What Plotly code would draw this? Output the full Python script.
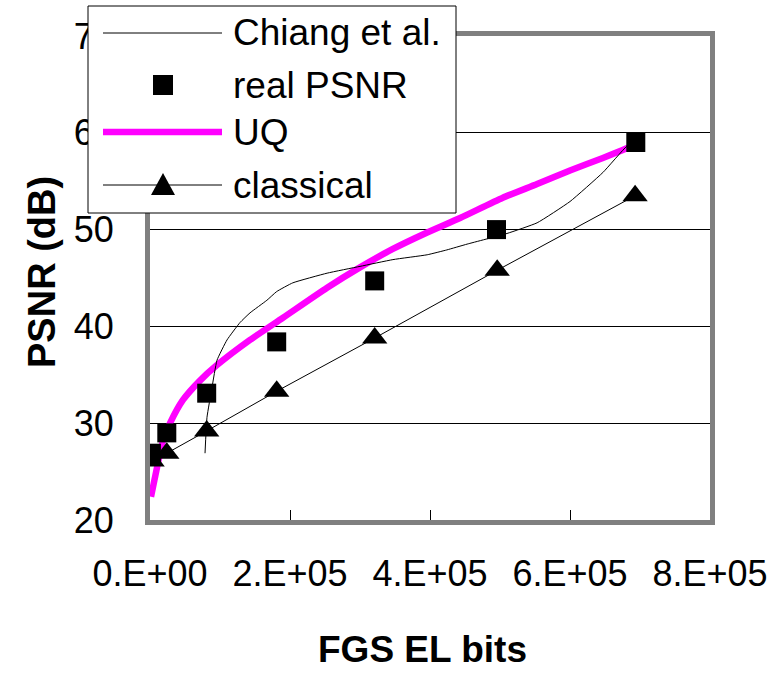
import plotly.graph_objects as go

# ---------------- data ----------------
real_x = [2e3, 0.24e5, 0.81e5, 1.81e5, 3.21e5, 4.95e5, 6.94e5]
real_y = [26.9, 29.0, 33.1, 38.4, 44.7, 50.0, 59.0]

classical_x = [3e3, 0.24e5, 0.81e5, 1.81e5, 3.21e5, 4.96e5, 6.93e5]
classical_y = [26.1, 26.9, 29.2, 33.3, 38.8, 45.8, 53.5]

uq_x = [0.014e5, 0.071e5, 0.186e5, 0.286e5, 0.471e5, 0.714e5, 0.957e5, 1.429e5,
        1.9e5, 2.53e5, 3.0e5, 3.47e5, 3.96e5, 4.43e5, 5.04e5, 5.53e5, 6.0e5,
        6.47e5, 6.81e5, 6.93e5]
uq_y = [22.4, 24.4, 28.2, 30.0, 32.4, 34.4, 36.0, 38.6,
        40.9, 44.0, 46.1, 48.0, 49.7, 51.2, 53.3, 54.7, 56.1,
        57.4, 58.4, 58.8]

chiang_x = [0.786e5, 0.814e5, 0.886e5, 0.957e5, 1.1e5, 1.286e5, 1.429e5, 1.67e5,
            1.81e5, 2.04e5, 2.53e5, 3.0e5, 3.47e5, 3.96e5, 4.24e5, 4.53e5,
            5.1e5, 5.53e5, 6.0e5, 6.47e5, 6.81e5, 6.93e5]
chiang_y = [26.9, 30.6, 33.7, 36.5, 38.6, 40.4, 41.4, 42.7,
            43.6, 44.5, 45.5, 46.2, 46.9, 47.4, 47.9, 48.5,
            49.6, 50.7, 52.9, 55.9, 58.6, 59.0]

x_tickvals = [0, 2e5, 4e5, 6e5, 8e5]
x_ticktext = ["0.E+00", "2.E+05", "4.E+05", "6.E+05", "8.E+05"]
y_tickvals = [20, 30, 40, 50, 60, 70]

legend_names = ["Chiang et al.", "real PSNR", "UQ", "classical"]

# ---------------- layout geometry ----------------
W, H = 784, 673
L, R, T, B = 150, 74, 36, 153
PW, PH = W - L - R, H - T - B
FONT = "Liberation Sans, Arial, sans-serif"


def px2x(px):
    return (px - L) / PW


def px2y(py):
    return (H - B - py) / PH


fig = go.Figure()

fig.add_trace(go.Scatter(x=uq_x, y=uq_y, mode="lines", name="UQ",
                         line=dict(color="#FF00FF", width=6.5, shape="spline", smoothing=0.6),
                         showlegend=False))
fig.add_trace(go.Scatter(x=chiang_x, y=chiang_y, mode="lines", name="Chiang et al.",
                         line=dict(color="black", width=1, shape="spline", smoothing=0.4),
                         showlegend=False))
fig.add_trace(go.Scatter(x=classical_x, y=classical_y, mode="lines+markers", name="classical",
                         line=dict(color="black", width=1),
                         marker=dict(symbol="triangle-up", size=22, color="black"),
                         showlegend=False))
fig.add_trace(go.Scatter(x=real_x, y=real_y, mode="markers", name="real PSNR",
                         marker=dict(symbol="square", size=19, color="black"),
                         showlegend=False))

shapes = []
annotations = []

# manual legend box
shapes.append(dict(type="rect", xref="paper", yref="paper",
                   x0=px2x(88), x1=px2x(456), y0=px2y(213), y1=px2y(6),
                   line=dict(color="black", width=1), fillcolor="white", layer="above"))
entry_y = [33, 85, 132, 185]
line_styles = [("black", 1), None, ("#FF00FF", 6.5), ("black", 1)]
for i, name in enumerate(legend_names):
    yy = px2y(entry_y[i])
    if line_styles[i] is not None:
        c, w = line_styles[i]
        shapes.append(dict(type="line", xref="paper", yref="paper",
                           x0=px2x(103), x1=px2x(222), y0=yy, y1=yy,
                           line=dict(color=c, width=w), layer="above"))
    annotations.append(dict(text=name, xref="paper", yref="paper", x=px2x(231), y=yy,
                            xanchor="left", yanchor="middle", showarrow=False,
                            font=dict(family=FONT, size=37, color="black")))
# legend square marker
shapes.append(dict(type="rect", xref="paper", yref="paper", xsizemode="pixel", ysizemode="pixel",
                   xanchor=px2x(163), yanchor=px2y(entry_y[1]),
                   x0=-10, x1=10, y0=-10, y1=10,
                   line=dict(width=0), fillcolor="black", layer="above"))
# legend triangle marker
shapes.append(dict(type="path", xref="paper", yref="paper", xsizemode="pixel", ysizemode="pixel",
                   xanchor=px2x(163), yanchor=px2y(entry_y[3]),
                   path="M-12,-10 L12,-10 L0,12 Z",
                   line=dict(width=0), fillcolor="black", layer="above"))

# axis titles
annotations.append(dict(text="<b>FGS EL bits</b>", xref="paper", yref="paper",
                        x=px2x(422), y=px2y(672), xanchor="center", yanchor="bottom",
                        showarrow=False, font=dict(family=FONT, size=37, color="black")))
annotations.append(dict(text="<b>PSNR (dB)</b>", xref="paper", yref="paper",
                        x=px2x(42), y=px2y(272), xanchor="center", yanchor="middle",
                        textangle=-90, showarrow=False,
                        font=dict(family=FONT, size=38, color="black")))

fig.update_layout(
    width=W, height=H,
    margin=dict(l=L, r=R, t=T, b=B, pad=0),
    paper_bgcolor="white", plot_bgcolor="white",
    font=dict(family=FONT, size=36, color="black"),
    shapes=shapes, annotations=annotations,
    showlegend=False,
)
fig.update_xaxes(range=[0, 8e5], tickvals=x_tickvals, ticktext=x_ticktext,
                 showgrid=False, zeroline=False,
                 showline=True, linecolor="#808080", linewidth=5, mirror=True,
                 ticks="inside", ticklen=10, tickcolor="black", tickwidth=1,
                 ticklabelstandoff=18,
                 tickfont=dict(family=FONT, size=36, color="black"))
fig.update_yaxes(range=[20, 70], tickvals=y_tickvals,
                 showgrid=True, gridcolor="black", gridwidth=1, zeroline=False,
                 showline=True, linecolor="#808080", linewidth=5, mirror=True,
                 ticks="inside", ticklen=10, tickcolor="black", tickwidth=1,
                 ticklabelstandoff=24,
                 tickfont=dict(family=FONT, size=36, color="black"))

fig.write_html("out.html")
